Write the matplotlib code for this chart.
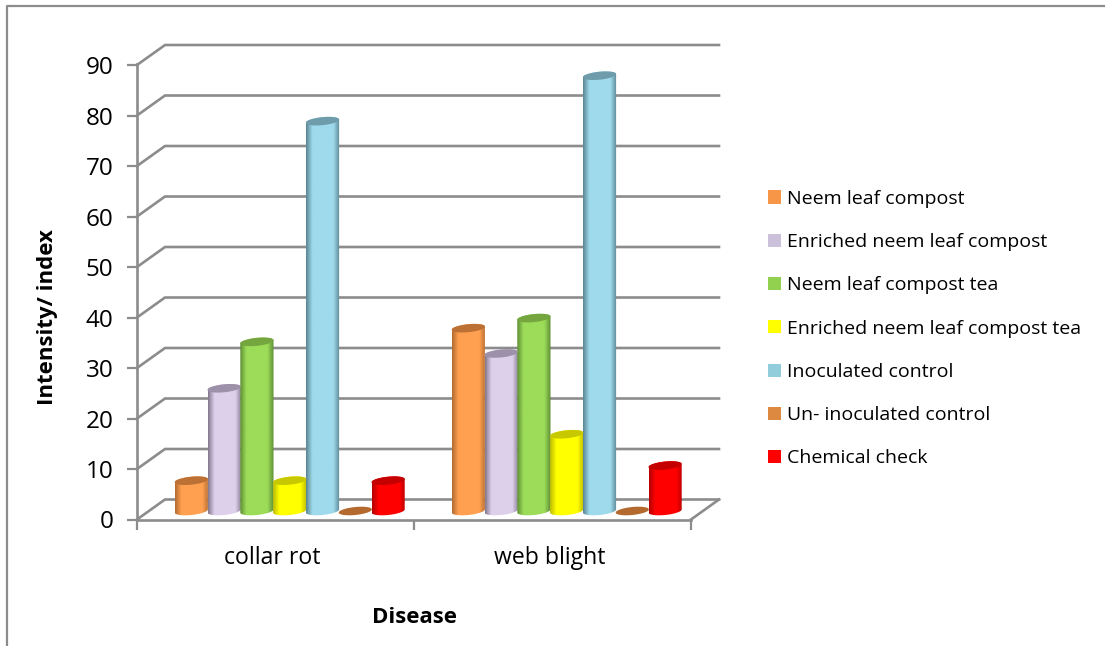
"""Recreate the 3D cylinder bar chart of disease intensity."""

import matplotlib

matplotlib.use("Agg")

import matplotlib.pyplot as plt
import numpy as np
from matplotlib.colors import LinearSegmentedColormap
from matplotlib.lines import Line2D
from matplotlib.patches import Patch, PathPatch
from matplotlib.path import Path

diseases = ["collar rot", "web blight"]
series_names = [
    "Neem leaf compost",
    "Enriched neem leaf compost",
    "Neem leaf compost tea",
    "Enriched neem leaf compost tea",
    "Inoculated control",
    "Un- inoculated control",
    "Chemical check",
]
collar_rot = [6, 24.3, 33.5, 6, 77.2, 0, 6]
web_blight = [36.2, 31.2, 38.2, 15.2, 86.2, 0, 9]
y_ticks = list(range(0, 100, 10))

legend_colors = ["#F79646", "#CCC1DA", "#92D050", "#FFFF00", "#92CDDC", "#DD8A40", "#FF0000"]
light_colors = ["#FFA050", "#DDD0EA", "#9CDC58", "#FFFF00", "#9EDAEC", "#DD8A40", "#FF0000"]
edge_colors = ["#B46C30", "#85798F", "#5E8E34", "#BDBD00", "#5C8794", "#B0682C", "#B40000"]
top_colors = ["#BC7034", "#9C91A8", "#74A53E", "#C8C800", "#6E9CAA", "#B46A2E", "#C40000"]

GREY = "#8C8C8C"
PX_X = 1 / 277  # data units per pixel
PX_Y = 1 / 5.05
DEPTH_X = 28 * PX_X
DEPTH_Y = 20 * PX_Y
BAR_STEP = 32.8 * PX_X
BAR_HALF = 16.6 * PX_X
GROUP_START = 54.3 * PX_X
BAR_LIFT = 8.5 * PX_Y
ELL_B = 4.0 * PX_Y
ELL_TILT = 1.6 * PX_Y


def ellipse_xy(cx, cy, t):
    return cx + BAR_HALF * np.cos(t), cy + ELL_B * np.sin(t) + ELL_TILT * np.cos(t)


def draw_cylinder(ax, cx, value, idx):
    base = BAR_LIFT
    top = base + value
    if value > 0:
        t_low = np.linspace(np.pi, 2 * np.pi, 40)
        t_up = np.linspace(0, np.pi, 40)
        x_low, y_low = ellipse_xy(cx, base, t_low)
        x_up, y_up = ellipse_xy(cx, top, t_up)
        verts = np.column_stack([np.r_[x_low, x_up], np.r_[y_low, y_up]])
        outline = PathPatch(Path(np.vstack([verts, verts[0]]), closed=True), transform=ax.transData,
                            facecolor="none", edgecolor="none")
        ax.add_patch(outline)
        cmap = LinearSegmentedColormap.from_list(
            "shade",
            [edge_colors[idx], light_colors[idx], light_colors[idx], edge_colors[idx]],
        )
        grad = ax.imshow(
            np.interp(np.linspace(0, 1, 64), [0, 0.28, 0.72, 1.0], [0, 0.5, 0.5, 1])[None, :],
            cmap=cmap,
            vmin=0,
            vmax=1,
            extent=[cx - BAR_HALF, cx + BAR_HALF, base - 2, top + 2],
            aspect="auto",
            zorder=3,
        )
        grad.set_clip_path(outline)
    x_top, y_top = ellipse_xy(cx, top, np.linspace(0, 2 * np.pi, 60))
    ax.fill(x_top, y_top, color=top_colors[idx], lw=0, zorder=4, clip_on=False)


def main():
    fig = plt.figure(figsize=(11.05, 6.46), dpi=100)
    plt.rcParams["font.family"] = ["Open Sans", "DejaVu Sans"]
    ax = fig.add_axes([137 / 1105, 1 - 519.5 / 646, 554 / 1105, 455.5 / 646])
    ax.patch.set_alpha(0)

    # walls and floor of the box
    for val in y_ticks:
        ax.plot([0, DEPTH_X, 2 + DEPTH_X], [val, val + DEPTH_Y, val + DEPTH_Y],
                color=GREY, lw=1.9, clip_on=False, zorder=1, solid_joinstyle="miter")
    ax.plot([2, 2 + DEPTH_X], [0, DEPTH_Y], color=GREY, lw=1.9, clip_on=False, zorder=1)

    for group, values in enumerate([collar_rot, web_blight]):
        for idx, value in enumerate(values):
            draw_cylinder(ax, group + GROUP_START + idx * BAR_STEP, value, idx)

    ax.set_xlim(0, 2)
    ax.set_ylim(0, 90.2)
    ax.set_yticks(y_ticks)
    ax.set_xticks([0, 1, 2])
    ax.set_xticklabels([])
    ax.set_xticks([0.49, 1.49], labels=diseases, minor=True)
    ax.tick_params(axis="x", which="major", length=7, width=1.6, color=GREY)
    ax.tick_params(axis="x", which="minor", length=0, labelsize=16.6, pad=19)
    ax.tick_params(axis="y", length=7, width=1.6, color=GREY, labelsize=17.5, pad=10)
    for name in ["top", "right"]:
        ax.spines[name].set_visible(False)
    for name in ["left", "bottom"]:
        ax.spines[name].set_color(GREY)
        ax.spines[name].set_linewidth(1.9)

    ax.set_ylabel("Intensity/ index", fontsize=16, fontweight="bold")
    ax.yaxis.set_label_coords(-79 / 554, (519.5 - 317) / 455.5)
    ax.set_xlabel("Disease", fontsize=16, fontweight="bold", labelpad=26.5)

    handles = [Patch(facecolor=c, edgecolor="none") for c in legend_colors]
    fig.legend(
        handles,
        series_names,
        loc="upper left",
        bbox_to_anchor=(762 / 1105, 1 - 184 / 646),
        frameon=False,
        fontsize=14,
        labelspacing=1.3,
        handlelength=0.67,
        handleheight=0.67,
        handletextpad=0.3,
        borderpad=0.3,
        borderaxespad=0,
    )

    # outer chart frame, cut off by the picture edge
    fig.add_artist(Line2D([7 / 1105, 7 / 1105, 1], [0, 1 - 6 / 646, 1 - 6 / 646], color=GREY, lw=1.6))

    fig.savefig("out.png", dpi=100)
    plt.close(fig)


if __name__ == "__main__":
    main()
